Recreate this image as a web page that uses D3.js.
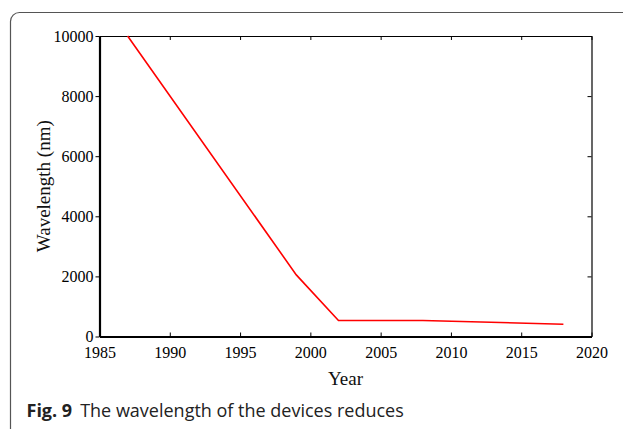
<!DOCTYPE html>
<html>
<head>
<meta charset="utf-8">
<script src="https://cdn.jsdelivr.net/npm/d3@7"></script>
<style>
  body { margin: 0; background: #fff; }
  svg { display: block; }
</style>
</head>
<body>
<div id="graphic"></div>
<script>
// values
var years = [1987, 1999, 2002, 2008, 2018],
    wavelengths = [10000, 2050, 530, 530, 410],
    xTicks = [1985, 1990, 1995, 2000, 2005, 2010, 2015, 2020],
    yTicks = [0, 2000, 4000, 6000, 8000, 10000];

function graph() {

    var W = 623, H = 429;
    var margin = { top: 36, right: 31.5, bottom: 92.5, left: 99.5 };
    var width = W - margin.left - margin.right,
        height = H - margin.top - margin.bottom;

    var root = d3.select("#graphic").append("svg")
        .attr("width", W)
        .attr("height", H);

    // figure frame (runs off right and bottom)
    root.append("rect")
        .attr("x", 10.5).attr("y", 12.5)
        .attr("width", 700).attr("height", 500)
        .attr("rx", 9).attr("ry", 9)
        .attr("fill", "none")
        .attr("stroke", "#555")
        .attr("stroke-width", 1.2);

    var svg = root.append("g")
        .attr("transform", "translate(" + margin.left + "," + margin.top + ")");

    var x = d3.scaleLinear().domain([1985, 2020]).range([0, width]);
    var y = d3.scaleLinear().domain([0, 10000]).range([height, 0]);

    var serif = "'Liberation Serif', 'Times New Roman', serif";

    // bottom axis, ticks inward
    var xAxis = svg.append("g")
        .attr("transform", "translate(0," + height + ")")
        .call(d3.axisBottom(x).tickValues(xTicks).tickFormat(d3.format("d"))
            .tickSizeInner(-4).tickSizeOuter(0).tickPadding(10));
    xAxis.select(".domain").attr("stroke-width", 2.2);

    // top axis
    var xTop = svg.append("g")
        .call(d3.axisTop(x).tickValues(xTicks).tickFormat("")
            .tickSizeInner(-4).tickSizeOuter(0));
    xTop.select(".domain").attr("stroke-width", 1);

    // left axis, ticks outward
    var yAxis = svg.append("g")
        .call(d3.axisLeft(y).tickValues(yTicks).tickFormat(d3.format("d"))
            .tickSizeInner(4).tickSizeOuter(0).tickPadding(2));
    yAxis.select(".domain").attr("stroke-width", 2.2);

    // right axis, ticks inward
    var yRight = svg.append("g")
        .attr("transform", "translate(" + width + ",0)")
        .call(d3.axisRight(y).tickValues(yTicks).tickFormat("")
            .tickSizeInner(-4).tickSizeOuter(0));
    yRight.select(".domain").attr("stroke-width", 1.2);

    svg.selectAll(".tick text")
        .attr("font-family", serif)
        .attr("font-size", 16)
        .attr("fill", "#000");
    svg.selectAll(".tick line").attr("stroke", "#000");

    // data line
    var line = d3.line()
        .x(function (d, i) { return x(years[i]); })
        .y(function (d) { return y(d); });

    svg.append("path")
        .datum(wavelengths)
        .attr("d", line)
        .attr("fill", "none")
        .attr("stroke", "#ff0000")
        .attr("stroke-width", 1.6);

    // axis titles
    svg.append("text")
        .attr("x", width / 2)
        .attr("y", height + 48)
        .attr("text-anchor", "middle")
        .attr("font-family", serif)
        .attr("font-size", 19)
        .attr("fill", "#111")
        .text("Year");

    svg.append("text")
        .attr("transform", "translate(" + (-50) + "," + (height / 2) + ") rotate(-90)")
        .attr("text-anchor", "middle")
        .attr("font-family", serif)
        .attr("font-size", 19)
        .attr("fill", "#111")
        .text("Wavelength (nm)");

    // caption
    var cap = root.append("text")
        .attr("x", 26.5)
        .attr("y", 416.5)
        .attr("font-family", "'Open Sans', 'Noto Sans', sans-serif")
        .attr("font-size", 18)
        .attr("fill", "#222");
    cap.append("tspan").attr("font-weight", "bold").text("Fig. 9");
    cap.append("tspan").attr("dx", 8).text("The wavelength of the devices reduces");
}

graph();
</script>
</body>
</html>
